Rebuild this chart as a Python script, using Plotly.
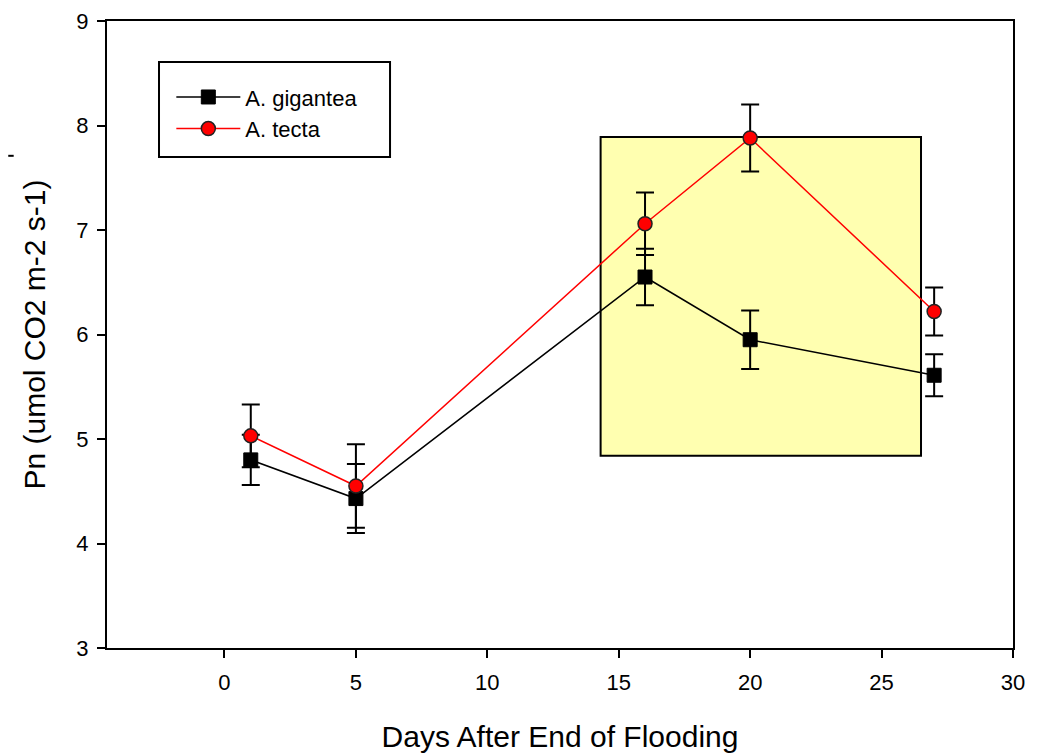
import plotly.graph_objects as go

days = [1, 5, 16, 20, 27]
gigantea = [4.80, 4.43, 6.55, 5.95, 5.61]
gigantea_err = [0.24, 0.33, 0.27, 0.28, 0.20]
tecta = [5.03, 4.55, 7.06, 7.88, 6.22]
tecta_err = [0.30, 0.40, 0.30, 0.32, 0.23]

x_ticks = [0, 5, 10, 15, 20, 25, 30]
y_ticks = [3, 4, 5, 6, 7, 8, 9]

box_x = [14.31, 26.5]
box_y = [4.84, 7.89]

font = "Liberation Sans, Arial, sans-serif"

fig = go.Figure()

fig.add_trace(go.Scatter(
    x=days, y=gigantea, name="A. gigantea", mode="lines+markers",
    line=dict(color="black", width=1.5),
    marker=dict(symbol="square", size=14, color="black", line=dict(color="black", width=1)),
    error_y=dict(type="data", array=gigantea_err, color="black", thickness=2, width=9),
))
fig.add_trace(go.Scatter(
    x=days, y=tecta, name="A. tecta", mode="lines+markers",
    line=dict(color="red", width=1.5),
    marker=dict(symbol="circle", size=14, color="red", line=dict(color="#222222", width=1.5)),
    error_y=dict(type="data", array=tecta_err, color="black", thickness=2, width=9),
))

fig.add_shape(type="rect", xref="x", yref="y",
              x0=box_x[0], x1=box_x[1], y0=box_y[0], y1=box_y[1],
              fillcolor="#ffffb0", line=dict(color="black", width=2), layer="below")

# legend frame
fig.add_shape(type="rect", xref="paper", yref="paper",
              x0=0.0574, x1=0.3124, y0=0.7831, y1=0.9346,
              fillcolor="white", line=dict(color="black", width=2), layer="below")

# stray mark at left edge
fig.add_shape(type="line", xref="paper", yref="paper",
              x0=-0.109, x1=-0.103, y0=0.785, y1=0.785,
              line=dict(color="black", width=2))

axis_common = dict(
    showgrid=False, zeroline=False, showline=True, linecolor="black", linewidth=2,
    mirror=True, ticks="outside", ticklen=8, tickwidth=2, tickcolor="black",
    tickfont=dict(family=font, size=22, color="black"), automargin=False,
)

fig.update_layout(
    width=1039, height=754,
    margin=dict(l=99, r=34, t=13, b=114, autoexpand=False),
    paper_bgcolor="white", plot_bgcolor="white",
    font=dict(family=font, color="black"),
    xaxis=dict(range=[-4.47, 30], tickvals=x_ticks, ticklabelstandoff=6,
               title=dict(text="Days After End of Flooding", font=dict(size=30), standoff=32),
               **axis_common),
    yaxis=dict(range=[3, 9], tickvals=y_ticks, ticklabelstandoff=4,
               title=dict(text="Pn (umol CO2 m-2 s-1)", font=dict(size=30), standoff=22),
               **axis_common),
    legend=dict(x=0.071, y=0.912, xanchor="left", yanchor="top",
                borderwidth=0, bgcolor="rgba(0,0,0,0)",
                font=dict(family=font, size=22, color="black"),
                itemwidth=64, tracegroupgap=0),
    showlegend=True,
)

fig.write_html("out.html")
